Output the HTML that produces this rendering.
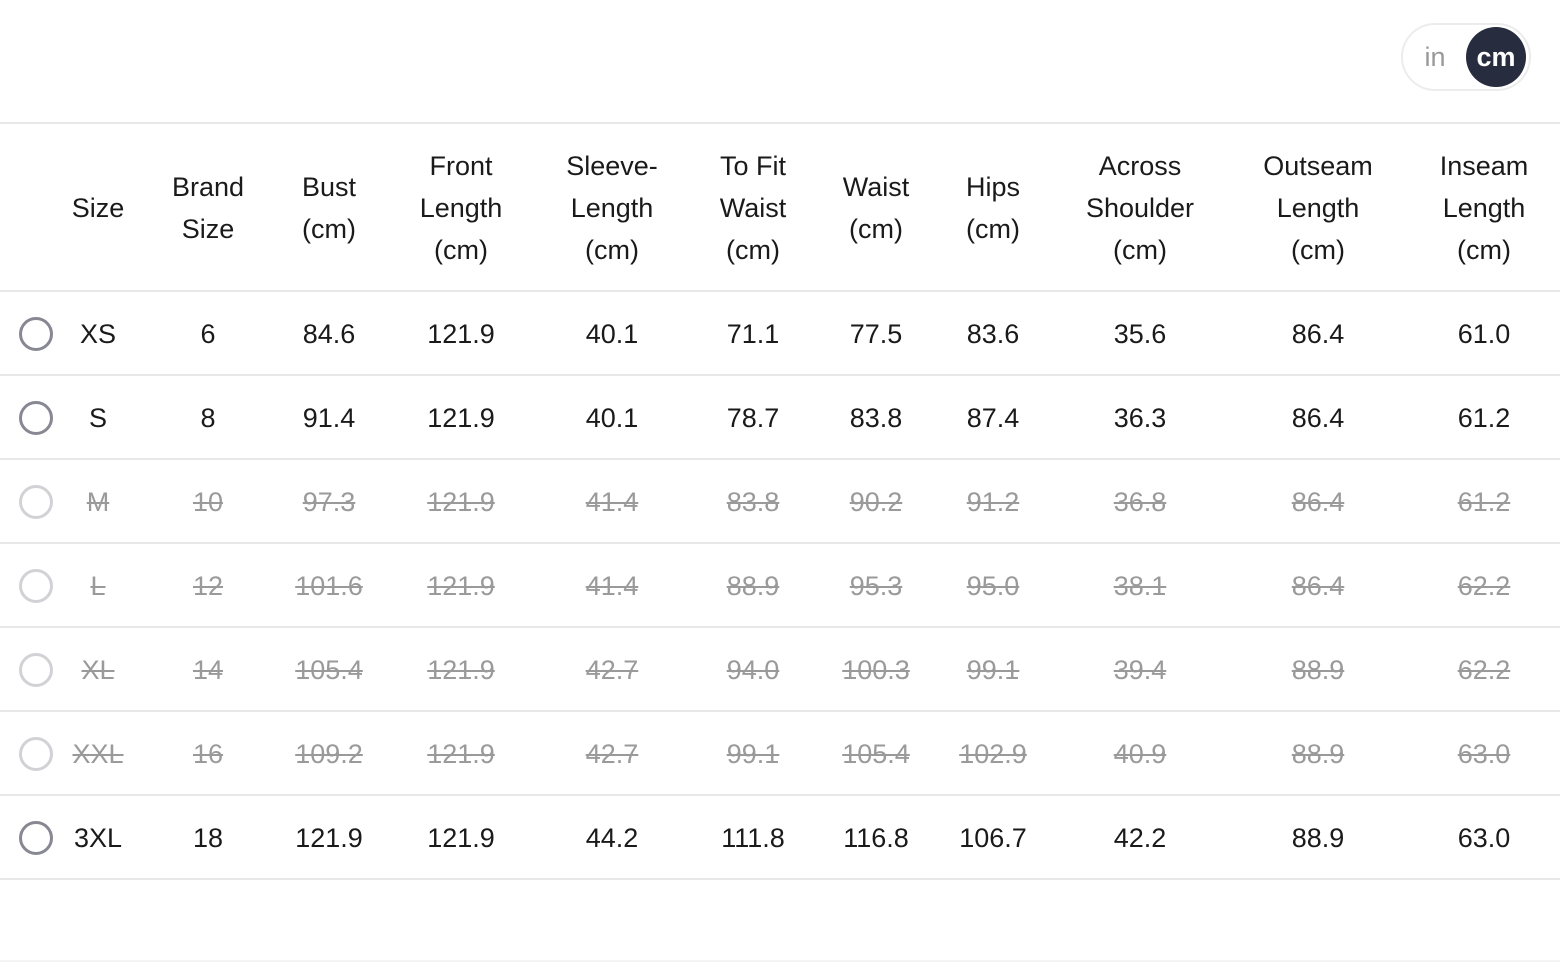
<!DOCTYPE html>
<html><head><meta charset="utf-8"><style>
body{margin:0;width:1560px;height:962px;background:#fff;position:relative;overflow:hidden;font-family:"Liberation Sans",sans-serif;color:#1a1a1a;}
.c{position:absolute;transform:translateX(-50%);text-align:center;white-space:nowrap;font-size:27px;line-height:40px;}
.h{line-height:42px;}
.d{color:#9a9a9a;text-decoration:line-through;}
.ln{position:absolute;left:0;width:1560px;height:2px;background:#e8e8e8;}
.r{position:absolute;left:19px;width:28px;height:28px;border:3px solid #878893;border-radius:50%;}
.r.dis{border-color:#d2d2d6;}
</style></head><body>
<div style="position:absolute;left:1401px;top:23px;width:126px;height:64px;border:2px solid #ececec;border-radius:34px;"></div>
<div style="position:absolute;left:1466px;top:27px;width:60px;height:60px;border-radius:50%;background:#272c3f;"></div>
<div class="c" style="left:1435px;top:37px;color:#999;">in</div>
<div class="c" style="left:1496px;top:37px;color:#fff;font-weight:bold;">cm</div>
<div class="ln" style="top:122px"></div>
<div class="ln" style="top:290px"></div>

<div class="c h" style="left:98px;top:187px">Size</div>
<div class="c h" style="left:208px;top:166px">Brand<br>Size</div>
<div class="c h" style="left:329px;top:166px">Bust<br>(cm)</div>
<div class="c h" style="left:461px;top:145px">Front<br>Length<br>(cm)</div>
<div class="c h" style="left:612px;top:145px">Sleeve-<br>Length<br>(cm)</div>
<div class="c h" style="left:753px;top:145px">To Fit<br>Waist<br>(cm)</div>
<div class="c h" style="left:876px;top:166px">Waist<br>(cm)</div>
<div class="c h" style="left:993px;top:166px">Hips<br>(cm)</div>
<div class="c h" style="left:1140px;top:145px">Across<br>Shoulder<br>(cm)</div>
<div class="c h" style="left:1318px;top:145px">Outseam<br>Length<br>(cm)</div>
<div class="c h" style="left:1484px;top:145px">Inseam<br>Length<br>(cm)</div>

<div id="rows"></div>
<script>
var xs=[98,208,329,461,612,753,876,993,1140,1318,1484];
var data=[
["XS","6","84.6","121.9","40.1","71.1","77.5","83.6","35.6","86.4","61.0",0],
["S","8","91.4","121.9","40.1","78.7","83.8","87.4","36.3","86.4","61.2",0],
["M","10","97.3","121.9","41.4","83.8","90.2","91.2","36.8","86.4","61.2",1],
["L","12","101.6","121.9","41.4","88.9","95.3","95.0","38.1","86.4","62.2",1],
["XL","14","105.4","121.9","42.7","94.0","100.3","99.1","39.4","88.9","62.2",1],
["XXL","16","109.2","121.9","42.7","99.1","105.4","102.9","40.9","88.9","63.0",1],
["3XL","18","121.9","121.9","44.2","111.8","116.8","106.7","42.2","88.9","63.0",0]];
var h="";
data.forEach(function(r,i){
 var cy=334+84*i, dis=r[11];
 h+='<div class="r'+(dis?' dis':'')+'" style="top:'+(cy-17)+'px"></div>';
 for(var j=0;j<11;j++) h+='<div class="c'+(dis?' d':'')+'" style="left:'+xs[j]+'px;top:'+(cy-20)+'px">'+r[j]+'</div>';
 h+='<div class="ln" style="top:'+(cy+40)+'px"></div>';
});
document.getElementById("rows").innerHTML=h;
</script>
<div class="ln" style="top:960px;background:#f4f4f4"></div>
</body></html>
